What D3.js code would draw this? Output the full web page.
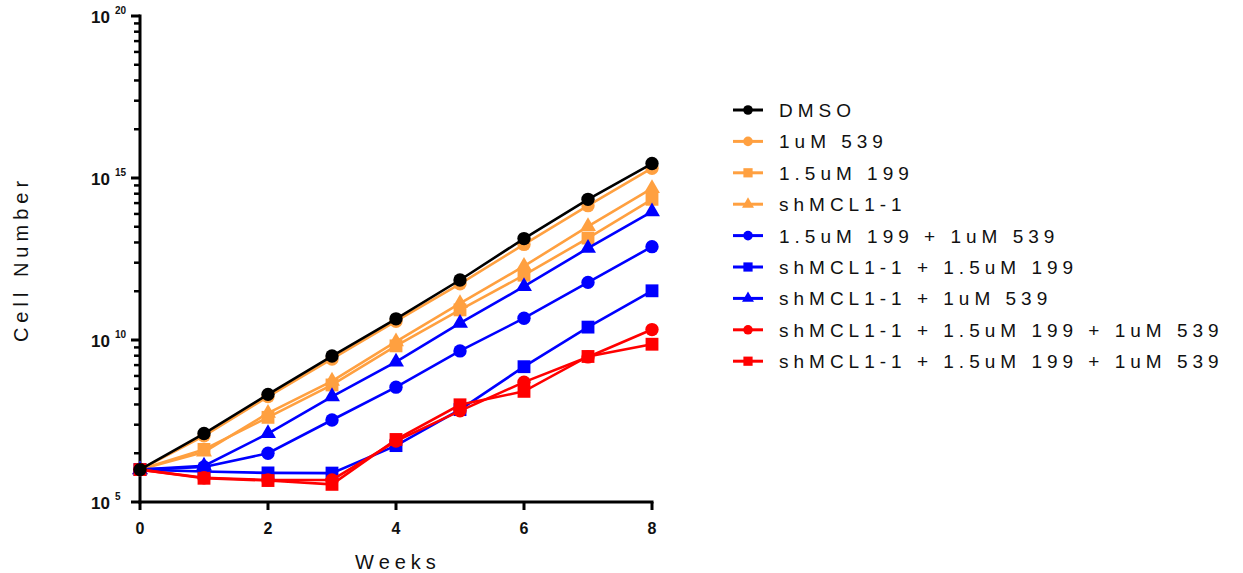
<!DOCTYPE html>
<html>
  <head>
    <script src="https://d3js.org/d3.v7.min.js"></script>
    <style>
      body { margin: 0px; background: #fff; }
      text { font-family: "Liberation Sans", Arial, sans-serif; }
      .tick-label { font-weight: bold; font-size: 16px; fill: #111; }
      .axis-title { font-size: 20px; fill: #111; letter-spacing: 5px; }
      .legend-label { font-size: 19px; fill: #111; letter-spacing: 5px; }
    </style>
  </head>
  <body>
    <svg width="1243" height="573"></svg>
    <script>
      var weeks = [0, 1, 2, 3, 4, 5, 6, 7, 8];
      var seriesNames = ["DMSO", "1uM 539", "1.5uM 199", "shMCL1-1",
        "1.5uM 199 + 1uM 539", "shMCL1-1 + 1.5uM 199", "shMCL1-1 + 1uM 539",
        "shMCL1-1 + 1.5uM 199 + 1uM 539", "shMCL1-1 + 1.5uM 199 + 1uM 539"];
      var seriesColors = ["#000000", "#FFA040", "#FFA040", "#FFA040",
        "#0000FF", "#0000FF", "#0000FF", "#FF0000", "#FF0000"];
      var seriesShapes = ["circle", "circle", "square", "triangle",
        "circle", "square", "triangle", "circle", "square"];

      var dmso = [1e6, 1.3e7, 2.1e8, 3.2e9, 4.5e10, 7.1e11, 1.35e13, 2.2e14, 2.8e15];
      var uM539 = [1e6, 1.1e7, 1.8e8, 2.6e9, 3.8e10, 5.4e11, 8.9e12, 1.4e14, 2.0e15];
      var uM199 = [1e6, 4.2e6, 4.1e7, 4.1e8, 6.6e9, 8.5e10, 1.0e12, 1.4e13, 2.2e14];
      var shMCL = [1e6, 3.5e6, 5.5e7, 5.4e8, 8.9e9, 1.35e11, 1.9e12, 3.2e13, 4.8e14];
      var uM199_539 = [1e6, 1.2e6, 3.2e6, 3.4e7, 3.5e8, 4.6e9, 4.7e10, 6.0e11, 7.6e12];
      var shMCL_199 = [1e6, 8.7e5, 7.9e5, 7.8e5, 5.5e6, 7.1e7, 1.5e9, 2.5e10, 3.3e11];
      var shMCL_539 = [1e6, 1.3e6, 1.3e7, 1.8e8, 2.1e9, 3.3e10, 4.5e11, 6.8e12, 9.1e13];
      var shMCL_199_539a = [1e6, 5.6e5, 4.8e5, 4.8e5, 7.6e6, 6.5e7, 5.0e8, 3.0e9, 2.1e10];
      var shMCL_199_539b = [1e6, 5.4e5, 4.6e5, 3.5e5, 8.5e6, 1.0e8, 2.6e8, 3.1e9, 7.4e9];

      var seriesValues = [dmso, uM539, uM199, shMCL, uM199_539, shMCL_199,
        shMCL_539, shMCL_199_539a, shMCL_199_539b];

      var xTicks = [0, 2, 4, 6, 8];
      var yMajorExp = [5, 10, 15, 20];

      var svg = d3.select("svg");

      var x = d3.scaleLinear().domain([0, 8]).range([140, 652]);
      var y = d3.scaleLog().domain([1e5, 1e20]).range([502, 16]);

      var shapeMap = {
        circle: d3.symbolCircle,
        square: d3.symbolSquare,
        triangle: d3.symbolTriangle
      };
      var bigSize = { circle: 140, square: 165, triangle: 110 };
      var smallSize = { circle: 72, square: 85, triangle: 62 };

      // y axis, with GraphPad-style minor ticks (k^5 within each 10^5 step)
      var yAxis = svg.append("g");
      yAxis.append("line")
        .attr("x1", 140).attr("x2", 140)
        .attr("y1", y(1e20) - 1.5).attr("y2", y(1e5) + 1.5)
        .attr("stroke", "#000").attr("stroke-width", 3);

      var minor = [];
      [5, 10, 15].forEach(function(e) {
        for (var k = 2; k <= 9; k++) minor.push(Math.pow(10, e) * Math.pow(k, 5));
      });
      yAxis.selectAll(".minor").data(minor).enter().append("line")
        .attr("x1", 134).attr("x2", 140)
        .attr("y1", function(d) { return y(d); })
        .attr("y2", function(d) { return y(d); })
        .attr("stroke", "#000").attr("stroke-width", 2.5);

      yAxis.selectAll(".major").data(yMajorExp).enter().append("line")
        .attr("x1", 131).attr("x2", 140)
        .attr("y1", function(d) { return y(Math.pow(10, d)); })
        .attr("y2", function(d) { return y(Math.pow(10, d)); })
        .attr("stroke", "#000").attr("stroke-width", 3);

      var yl = yAxis.selectAll(".ylab").data(yMajorExp).enter().append("text")
        .attr("class", "tick-label")
        .attr("x", 91)
        .attr("y", function(d) { return y(Math.pow(10, d)) + 7; })
        .style("font-size", "17px");
      yl.append("tspan").text("10");
      yl.append("tspan")
        .attr("dx", 5).attr("dy", -9)
        .style("font-size", "10px")
        .text(function(d) { return d; });

      // x axis
      var xAxis = svg.append("g");
      xAxis.append("line")
        .attr("x1", 138.5).attr("x2", 653.5)
        .attr("y1", 502).attr("y2", 502)
        .attr("stroke", "#000").attr("stroke-width", 3);
      xAxis.selectAll(".xt").data(xTicks).enter().append("line")
        .attr("x1", function(d) { return x(d); })
        .attr("x2", function(d) { return x(d); })
        .attr("y1", 502).attr("y2", 510)
        .attr("stroke", "#000").attr("stroke-width", 3);
      xAxis.selectAll(".xl").data(xTicks).enter().append("text")
        .attr("class", "tick-label")
        .attr("text-anchor", "middle")
        .attr("x", function(d) { return x(d); })
        .attr("y", 534)
        .text(function(d) { return d; });

      svg.append("text")
        .attr("class", "axis-title")
        .attr("text-anchor", "middle")
        .attr("x", 398).attr("y", 569)
        .text("Weeks");

      svg.append("text")
        .attr("class", "axis-title")
        .attr("text-anchor", "middle")
        .attr("transform", "translate(28,259) rotate(-90)")
        .text("Cell Number");

      // series: drawn in order, DMSO last so it sits on top
      var order = [1, 2, 3, 4, 5, 6, 7, 8, 0];
      var line = d3.line()
        .x(function(d, i) { return x(weeks[i]); })
        .y(function(d) { return y(d); });

      order.forEach(function(s) {
        var g = svg.append("g");
        g.append("path")
          .datum(seriesValues[s])
          .attr("d", line)
          .attr("fill", "none")
          .attr("stroke", seriesColors[s])
          .attr("stroke-width", 2.6);
        g.selectAll("path.pt").data(seriesValues[s]).enter().append("path")
          .attr("class", "pt")
          .attr("transform", function(d, i) {
            return "translate(" + x(weeks[i]) + "," + y(d) + ")";
          })
          .attr("d", d3.symbol().type(shapeMap[seriesShapes[s]]).size(bigSize[seriesShapes[s]]))
          .attr("fill", seriesColors[s]);
      });

      // legend
      var legend = svg.append("g");
      var rows = legend.selectAll("g").data(seriesNames).enter().append("g")
        .attr("transform", function(d, i) { return "translate(0," + (110 + i * 31.4) + ")"; });
      rows.append("line")
        .attr("x1", 733).attr("x2", 763)
        .attr("stroke", function(d, i) { return seriesColors[i]; })
        .attr("stroke-width", 3);
      rows.append("path")
        .attr("transform", "translate(748,0)")
        .attr("d", function(d, i) {
          return d3.symbol().type(shapeMap[seriesShapes[i]]).size(smallSize[seriesShapes[i]])();
        })
        .attr("fill", function(d, i) { return seriesColors[i]; });
      rows.append("text")
        .attr("class", "legend-label")
        .attr("x", 779).attr("y", 7)
        .text(function(d) { return d; });
    </script>
  </body>
</html>
